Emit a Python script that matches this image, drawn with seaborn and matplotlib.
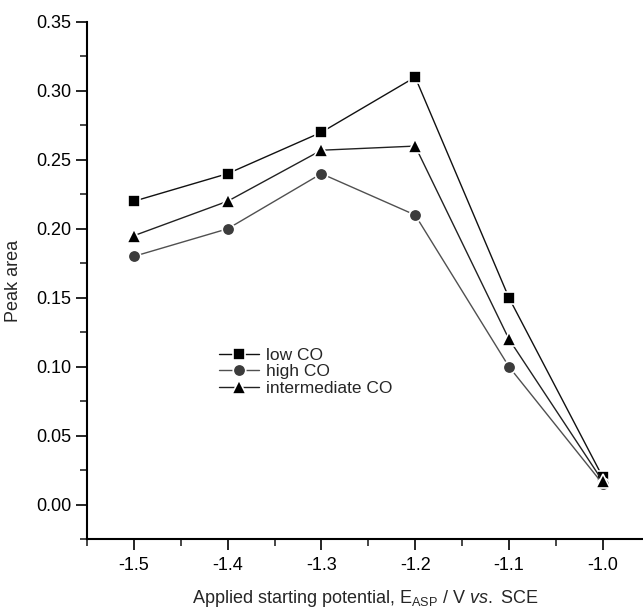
import matplotlib
matplotlib.use("Agg")
import matplotlib.pyplot as plt
import seaborn as sns
from matplotlib.ticker import MultipleLocator

# potentials (V vs. SCE)
potential = [-1.5, -1.4, -1.3, -1.2, -1.1, -1.0]

low_co = [0.22, 0.24, 0.27, 0.31, 0.15, 0.02]
high_co = [0.18, 0.20, 0.24, 0.21, 0.10, 0.015]
intermediate_co = [0.195, 0.22, 0.257, 0.26, 0.12, 0.017]

series_names = ["low CO", "high CO", "intermediate CO"]

sns.set_style("ticks")
plt.rcParams["font.family"] = ["Liberation Sans", "DejaVu Sans"]
plt.rcParams["mathtext.fontset"] = "custom"
plt.rcParams["mathtext.rm"] = "Liberation Sans"
plt.rcParams["mathtext.it"] = "Liberation Sans:italic"

fig = plt.figure(figsize=(6.43, 6.13), dpi=100)
ax = fig.add_axes([87 / 643, 74 / 613, 1 - 87 / 643, (539 - 22) / 613])

styles = [
    (low_co, "s", "black", "#111111", 8.5),
    (high_co, "o", "#3c3c3c", "#505050", 9),
    (intermediate_co, "^", "black", "#222222", 10),
]
for (vals, mk, mcol, lcol, ms), name in zip(styles, series_names):
    sns.lineplot(x=potential, y=vals, ax=ax, color=lcol, linewidth=1.0,
                 marker=mk, markersize=ms, markerfacecolor=mcol,
                 markeredgecolor="white", markeredgewidth=1.2, label=name)

ax.set_xlim(-1.55, -0.957)
ax.set_ylim(-0.025, 0.35)
ax.xaxis.set_major_locator(MultipleLocator(0.1))
ax.xaxis.set_minor_locator(MultipleLocator(0.05))
ax.yaxis.set_major_locator(MultipleLocator(0.05))
ax.yaxis.set_minor_locator(MultipleLocator(0.025))
ax.xaxis.set_major_formatter(plt.FuncFormatter(lambda v, p: f"{v:.1f}"))
ax.yaxis.set_major_formatter(plt.FuncFormatter(lambda v, p: f"{v:.2f}"))
ax.tick_params(which="major", length=8, width=1.2, labelsize=13, colors="black")
ax.tick_params(which="minor", length=5, width=1.2)
ax.tick_params(axis="x", pad=5)

sns.despine(ax=ax)
for sp in ["left", "bottom"]:
    ax.spines[sp].set_linewidth(1.5)
    ax.spines[sp].set_color("black")

ax.set_ylabel("Peak area", fontsize=13, labelpad=10)
ax.set_xlabel(r"Applied starting potential, E$_{\rm ASP}$ / V $\it{vs.}$ SCE",
              fontsize=13, labelpad=10)

ax.legend(frameon=False, loc="upper left", bbox_to_anchor=(0.222, 0.386),
          fontsize=12.5, handlelength=2.3, handletextpad=0.4, labelspacing=0.06,
          borderpad=0)

fig.savefig("out.png", dpi=100)
